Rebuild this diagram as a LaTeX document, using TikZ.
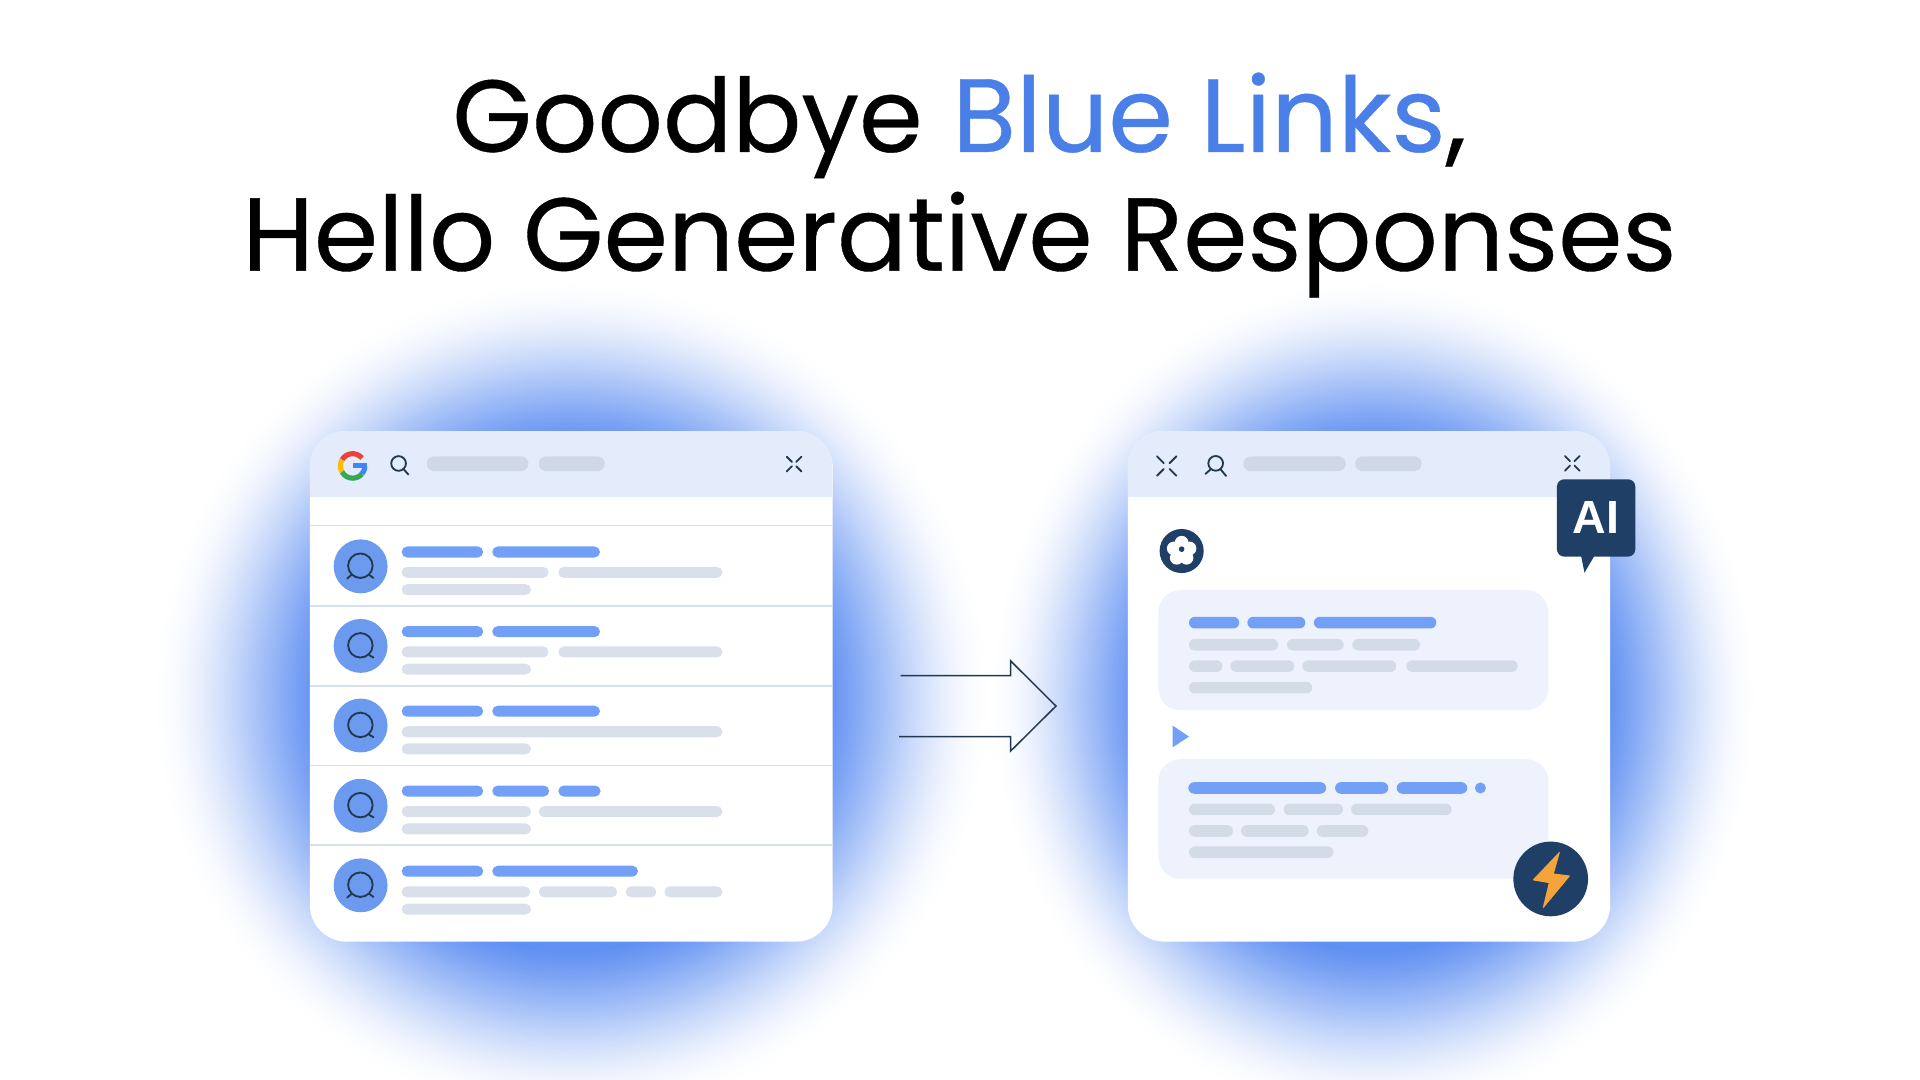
\documentclass[tikz,border=0pt]{standalone}
\usepackage{fontspec}
\setmainfont{Poppins}
\newfontfamily\titlefont[FakeBold=0.35]{Poppins}
\newfontfamily\aifont{Liberation Sans}
\definecolor{glowblue}{HTML}{6090F2}
\definecolor{hdr}{HTML}{E4EBFB}
\definecolor{barblue}{HTML}{72A0F6}
\definecolor{bargray}{HTML}{D9E0EC}
\definecolor{hdrgray}{HTML}{CFD8E6}
\definecolor{cardgray}{HTML}{D3DBE7}
\definecolor{rule}{HTML}{D5E0EC}
\definecolor{avatar}{HTML}{6C9AEE}
\definecolor{navy}{HTML}{1F3F66}
\definecolor{ink}{HTML}{22384F}
\definecolor{card}{HTML}{EEF2FC}
\definecolor{titleblue}{HTML}{4A7FE8}
\definecolor{bolt}{HTML}{F5A33B}
\definecolor{gred}{HTML}{EA4335}
\definecolor{gyellow}{HTML}{FBBC05}
\definecolor{ggreen}{HTML}{34A853}
\definecolor{gblue}{HTML}{4285F4}
\tikzset{
  panel/.style={fill=white,rounded corners=30pt},
  iconline/.style={draw=ink,line width=1.5pt,line cap=round},
  titletext/.style={anchor=base,inner sep=0pt,font=\titlefont\fontsize{84.6}{84.6}\selectfont},
}
% glow: cx, cy, a, b
\newcommand\glowdisc[4]{%
  \foreach \i in {0,...,80}{%
    \pgfmathsetmacro\tt{1-\i/80}%
    \pgfmathsetmacro\pp{100*(1-\tt)*(1-\tt)*(1+\tt)}%
    \pgfmathsetmacro\ra{#3*(0.6+0.4*\tt)}%
    \pgfmathsetmacro\rb{#4*(0.6+0.4*\tt)}%
    \fill[glowblue!\pp!white] (#1,#2) ellipse (\ra pt and \rb pt);
  }}
% pill: x1, x2, y, colour, height
\newcommand\pillbar[5]{\fill[#4,rounded corners=#5/2*1pt] (#1,#3-#5/2) rectangle (#2,#3+#5/2);}
\newcommand\shrinkicon[3]{%
  \draw[iconline] (#1-#3,#2-#3) -- (#1-0.3*#3,#2-0.3*#3);
  \draw[iconline] (#1+#3,#2-#3) -- (#1+0.3*#3,#2-0.3*#3);
  \draw[iconline] (#1-#3,#2+#3) -- (#1-0.3*#3,#2+0.3*#3);
  \draw[iconline] (#1+#3,#2+#3) -- (#1+0.3*#3,#2+0.3*#3);}
\newcommand\avatarone[2]{%
  \fill[avatar] (294.5,#1) circle (22pt);
  \draw[iconline] (294.3,#1-0.5) circle (10pt);
  \ifnum#2=1
    \draw[iconline] (287,#1+7) -- (283.5,#1+10);
    \draw[iconline] (301.5,#1+7) -- (305,#1+9.5);
  \else
    \draw[iconline] (301.5,#1+7.5) -- (305,#1+9.5);
  \fi}
\begin{document}
\begin{tikzpicture}[x=1pt,y=-1pt]
\useasboundingbox (0,0) rectangle (1568,882);
\fill[white] (0,0) rectangle (1568,882);
% glows
\glowdisc{467}{570}{345}{345}
\glowdisc{1122}{570}{316}{345}
% title
\node[titletext] (title1) at (783.5,124)
  {\fontsize{83.6}{84}\selectfont Goodbye\hspace{2pt} \fontsize{85}{84}\selectfont\textcolor{titleblue}{Blue Links},};
\node[titletext] (title2) at (783.5,221)
  {Hello Generative Responses};
% left panel
\fill[panel] (253,352) rectangle (680,769);
\begin{scope}
  \clip[rounded corners=30pt] (253,352) rectangle (680,769);
  \fill[hdr] (253,352) rectangle (680,406);
  \foreach \y in {429,495,560,625,690} \draw[rule,line width=1.3pt] (253,\y) -- (680,\y);
\end{scope}
% G logo
\begin{scope}[line width=4.2pt]
  \draw[gred] (288,380.5) ++(40:10pt) arc[start angle=40,end angle=150,radius=10pt];
  \draw[gyellow] (288,380.5) ++(150:10pt) arc[start angle=150,end angle=210,radius=10pt];
  \draw[ggreen] (288,380.5) ++(210:10pt) arc[start angle=210,end angle=320,radius=10pt];
  \draw[gblue] (288,380.5) ++(320:10pt) arc[start angle=320,end angle=360,radius=10pt];
  \fill[gblue] (288,378.5) rectangle (300,382.5);
\end{scope}
% search icon
\draw[iconline] (325.5,378.5) circle (6pt);
\draw[iconline] (329.5,383) -- (333.5,387.5);
\pillbar{348.5}{431.6}{378.7}{hdrgray}{12}
\pillbar{440}{494}{378.7}{hdrgray}{12}
\shrinkicon{648.5}{379}{6}
% result rows
\avatarone{462.5}{1}\avatarone{527.5}{0}\avatarone{592.5}{0}\avatarone{658}{0}\avatarone{723}{1}
% row 1
\pillbar{328}{394.6}{450.8}{barblue}{9}\pillbar{402}{490}{450.8}{barblue}{9}
\pillbar{328}{448}{467.4}{bargray}{9}\pillbar{456}{590}{467.4}{bargray}{9}
\pillbar{328}{433.6}{481.5}{bargray}{9}
% row 2
\pillbar{328}{394.6}{515.8}{barblue}{9}\pillbar{402}{490}{515.8}{barblue}{9}
\pillbar{328}{448}{532.4}{bargray}{9}\pillbar{456}{590}{532.4}{bargray}{9}
\pillbar{328}{433.6}{546.5}{bargray}{9}
% row 3
\pillbar{328}{394.6}{580.8}{barblue}{9}\pillbar{402}{490}{580.8}{barblue}{9}
\pillbar{328}{590}{597.6}{bargray}{9}
\pillbar{328}{433.6}{611.5}{bargray}{9}
% row 4
\pillbar{328}{394.6}{646}{barblue}{9}\pillbar{402}{448.5}{646}{barblue}{9}\pillbar{456}{490.5}{646}{barblue}{9}
\pillbar{328}{433.6}{662.8}{bargray}{9}\pillbar{440}{590}{662.8}{bargray}{9}
\pillbar{328}{433.6}{677}{bargray}{9}
% row 5
\pillbar{328}{394.6}{711.5}{barblue}{9}\pillbar{402}{521}{711.5}{barblue}{9}
\pillbar{328}{433}{728.3}{bargray}{9}\pillbar{440}{504}{728.3}{bargray}{9}\pillbar{511}{536}{728.3}{bargray}{9}\pillbar{542.6}{590}{728.3}{bargray}{9}
\pillbar{328}{433.6}{742.5}{bargray}{9}
% arrow
\draw[draw=ink,line width=1.2pt,line join=miter] (735.6,551.8) -- (825.4,551.8) -- (825.4,539.8) -- (862.4,576.6) -- (825.4,613.3) -- (825.4,601.6) -- (734.2,601.6);
% right panel
\fill[panel] (921,352) rectangle (1315,769);
\begin{scope}
  \clip[rounded corners=30pt] (921,352) rectangle (1315,769);
  \fill[hdr] (921,352) rectangle (1315,406);
\end{scope}
\shrinkicon{952.8}{380.6}{8}
\draw[iconline] (992.8,378.4) circle (6pt);
\draw[iconline] (988.5,383.5) -- (984.4,387);
\draw[iconline] (997,383.5) -- (1001.3,388.7);
\pillbar{1015.4}{1099}{378.7}{hdrgray}{12}
\pillbar{1106.6}{1161}{378.7}{hdrgray}{12}
\shrinkicon{1284}{378.4}{6}
% flower badge
\fill[navy] (965,450) circle (18pt);
\foreach \a in {90,162,234,306,18} \fill[white] (965,450) ++(\a:6.8pt) circle (5.6pt);
\fill[white] (965,450) circle (6pt);
\fill[navy] (965,448.5) circle (2.3pt);
% card 1
\fill[card,rounded corners=18pt] (946,482) rectangle (1264.5,580);
\pillbar{971}{1012}{508.5}{barblue}{9.5}\pillbar{1018.7}{1066}{508.5}{barblue}{9.5}\pillbar{1073}{1173}{508.5}{barblue}{9.5}
\pillbar{971}{1044}{526.5}{cardgray}{9.5}\pillbar{1051}{1097.3}{526.5}{cardgray}{9.5}\pillbar{1104.4}{1159.7}{526.5}{cardgray}{9.5}
\pillbar{971}{998.3}{544}{cardgray}{9.5}\pillbar{1004.8}{1057}{544}{cardgray}{9.5}\pillbar{1063.6}{1140.3}{544}{cardgray}{9.5}\pillbar{1148.5}{1239.4}{544}{cardgray}{9.5}
\pillbar{971}{1071.7}{561.6}{cardgray}{9.5}
% triangle
\fill[barblue] (957.7,592.6) -- (971,601.5) -- (957.7,610.3) -- cycle;
% card 2
\fill[card,rounded corners=18pt] (946,620) rectangle (1264.5,717.6);
\pillbar{970.5}{1083}{643.5}{barblue}{9.5}\pillbar{1090.3}{1133.8}{643.5}{barblue}{9.5}\pillbar{1140.6}{1198.3}{643.5}{barblue}{9.5}
\fill[barblue] (1209,643.5) circle (4.5pt);
\pillbar{971}{1041.3}{661}{cardgray}{9.5}\pillbar{1048.3}{1096.8}{661}{cardgray}{9.5}\pillbar{1103.3}{1185.5}{661}{cardgray}{9.5}
\pillbar{971}{1007}{678.6}{cardgray}{9.5}\pillbar{1013.5}{1068.8}{678.6}{cardgray}{9.5}\pillbar{1075.3}{1117.5}{678.6}{cardgray}{9.5}
\pillbar{971}{1089}{696}{cardgray}{9.5}
% bolt badge
\fill[navy] (1266.4,717.8) circle (30.5pt);
\fill[bolt,line join=round,draw=bolt,line width=0.8pt] (1273.4,696.3) -- (1252.2,718.6) -- (1265.3,720.8) -- (1260.4,741) -- (1281.6,715.4) -- (1268.5,713.7) -- cycle;
% AI bubble
\fill[navy,rounded corners=6pt] (1271.5,391.4) rectangle (1335.5,454.6);
\fill[navy] (1291,453) -- (1294,467.7) -- (1302.6,453) -- cycle;
\node[text=white,inner sep=0pt,anchor=base,font=\aifont\fontsize{38}{38}\selectfont\bfseries] (ai) at (1303.4,436) {AI};
\end{tikzpicture}
\end{document}
